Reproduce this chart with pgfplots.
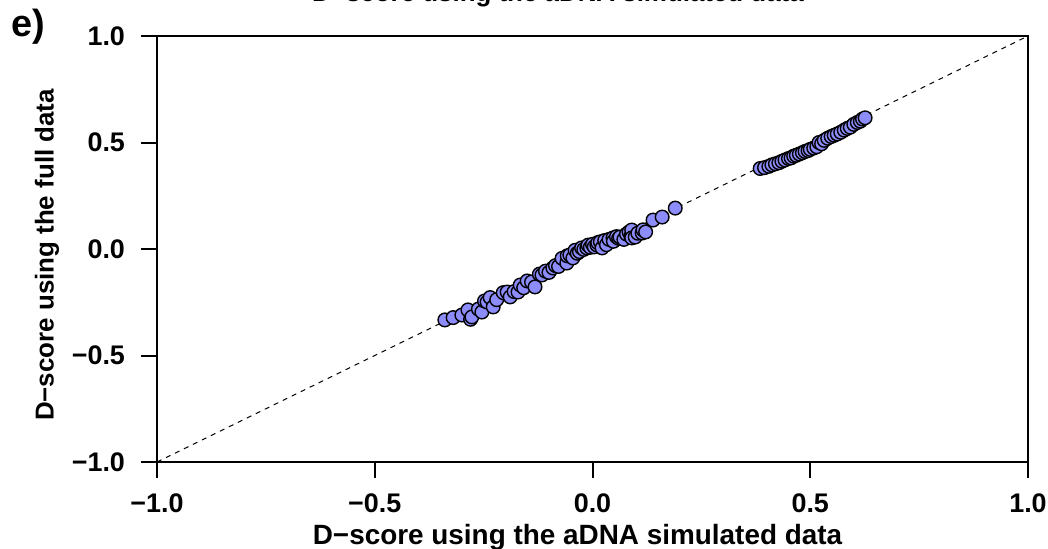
\documentclass[border=0pt]{standalone}
\usepackage{pgfplots}
\pgfplotsset{compat=1.18}
\usepackage{fontspec}
\setmainfont{Liberation Sans}
\definecolor{ptfill}{RGB}{140,140,250}
\begin{document}
\begin{tikzpicture}
\useasboundingbox (-78.5bp,-43.5bp) rectangle (445.5bp,231bp);
\clip (-78.5bp,-43.5bp) rectangle (445.5bp,231bp);
\begin{axis}[
  scale only axis,
  width=435.5bp, height=213bp,
  xmin=-1, xmax=1, ymin=-1, ymax=1,
  xtick={-1,-0.5,0,0.5,1}, ytick={-1,-0.5,0,0.5,1},
  xticklabels={−1.0,−0.5,0.0,0.5,1.0},
  yticklabels={−1.0,−0.5,0.0,0.5,1.0},
  xtick pos=bottom, ytick pos=left,
  tick align=outside,
  major tick length=8bp,
  tick style={line width=1bp, black},
  axis line style={line width=1bp},
  ticklabel style={font=\bfseries\fontsize{13.5}{16}\selectfont},
  yticklabel style={xshift=-4.5bp},
  xticklabel style={yshift=-4.5bp},
  xlabel={D−score using the aDNA simulated data},
  ylabel={D−score using the full data},
  xlabel style={font=\bfseries\fontsize{14}{16}\selectfont, at={(axis description cs:0.4828,-0.1760)}, anchor=center},
  ylabel style={font=\bfseries\fontsize{13}{16}\selectfont, at={(axis description cs:-0.1263,0.4859)}, anchor=center, rotate=0},
  clip=false,
]
\addplot[black, line width=0.5bp, dash pattern=on 2.5bp off 2.5bp] coordinates {(-1,-1) (1,1)};
\addplot[only marks, mark=*, mark size=3.4bp, mark options={fill=ptfill, draw=black, line width=0.7bp}] coordinates {
(-0.339,-0.333) (-0.320,-0.322) (-0.300,-0.310) (-0.286,-0.286) (-0.280,-0.330)
(-0.277,-0.319) (-0.262,-0.282) (-0.254,-0.296) (-0.248,-0.244) (-0.242,-0.249)
(-0.235,-0.228) (-0.228,-0.272) (-0.220,-0.238) (-0.205,-0.205) (-0.196,-0.202)
(-0.189,-0.225) (-0.180,-0.200) (-0.171,-0.202) (-0.166,-0.169) (-0.158,-0.182)
(-0.150,-0.150) (-0.140,-0.155) (-0.132,-0.178) (-0.122,-0.118) (-0.116,-0.122)
(-0.108,-0.104) (-0.100,-0.110) (-0.091,-0.089) (-0.085,-0.078) (-0.078,-0.082)
(-0.070,-0.044) (-0.059,-0.066) (-0.058,-0.032) (-0.052,-0.028) (-0.045,-0.042)
(-0.040,-0.006) (-0.035,-0.020) (-0.030,-0.012) (-0.025,0.005) (-0.020,-0.002)
(-0.013,0.005) (-0.010,0.018) (-0.005,0.008) (0.000,0.022) (0.004,0.010)
(0.010,0.019) (0.012,0.030) (0.018,0.034) (0.022,0.005) (0.028,0.040)
(0.032,0.020) (0.038,0.045) (0.047,0.052) (0.048,0.036) (0.055,0.058)
(0.060,0.050) (0.063,0.056) (0.072,0.045) (0.078,0.070) (0.084,0.080)
(0.088,0.060) (0.090,0.089) (0.090,0.052) (0.098,0.056) (0.104,0.074)
(0.114,0.075) (0.116,0.090) (0.122,0.080) (0.139,0.136) (0.160,0.150)
(0.190,0.192)
(0.385,0.378) (0.395,0.382) (0.405,0.388) (0.412,0.395) (0.420,0.400)
(0.428,0.405) (0.435,0.412) (0.442,0.418) (0.450,0.425) (0.456,0.428)
(0.462,0.436) (0.468,0.440) (0.475,0.446) (0.482,0.452) (0.488,0.458)
(0.495,0.462) (0.500,0.468) (0.508,0.474) (0.515,0.480) (0.520,0.500)
(0.526,0.494) (0.532,0.510) (0.540,0.520) (0.548,0.528) (0.555,0.534)
(0.562,0.540) (0.570,0.548) (0.578,0.558) (0.585,0.566) (0.592,0.572)
(0.600,0.585) (0.608,0.594) (0.615,0.600) (0.620,0.610) (0.626,0.616)
};
\end{axis}
\node[anchor=base, font=\bfseries\fontsize{13}{15}\selectfont, inner sep=0pt] at (200.5bp,230bp) {D−score using the aDNA simulated data};
\node[anchor=center, font=\bfseries\fontsize{19}{22}\selectfont, inner sep=0pt] at (-64.25bp,217.75bp) {e)};
\end{tikzpicture}
\end{document}
